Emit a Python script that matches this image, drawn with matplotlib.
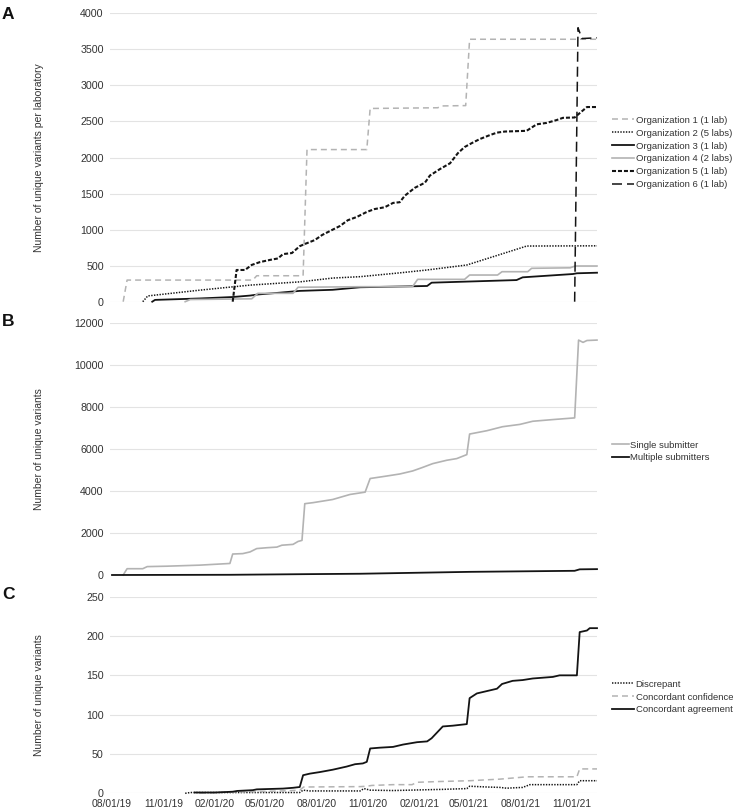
import matplotlib
matplotlib.use('Agg')
import matplotlib.pyplot as plt
import matplotlib.dates as mdates
import pandas as pd

plt.rcParams['font.family'] = ['Liberation Sans', 'DejaVu Sans']
plt.rcParams['lines.scale_dashes'] = False

GRAY = '#b3b3b3'
BLACK = '#141414'
TEXT = '#333333'

# ---------------- Panel A: unique variants per laboratory ----------------
org1_dates = ['2019-08-21', '2019-08-28', '2020-04-09', '2020-04-16', '2020-07-08', '2020-07-15',
              '2020-10-30', '2020-11-05', '2021-03-06', '2021-03-13', '2021-04-25', '2021-05-02',
              '2021-12-16']
org1_vals = [0, 300, 300, 360, 360, 2110, 2110, 2680, 2690, 2715, 2720, 3640, 3640]

org2_dates = ['2019-09-25', '2019-10-04', '2020-01-05', '2020-04-04', '2020-07-02', '2020-08-30',
              '2020-10-18', '2020-12-28', '2021-02-15', '2021-04-27', '2021-06-13', '2021-08-05',
              '2021-08-12', '2021-12-16']
org2_vals = [0, 80, 160, 230, 275, 328, 347, 400, 440, 509, 624, 754, 772, 775]

org3_dates = ['2019-10-12', '2019-10-17', '2020-01-05', '2020-03-04', '2020-04-04', '2020-04-18',
              '2020-05-27', '2020-07-02', '2020-08-30', '2020-10-18', '2021-02-15', '2021-02-23',
              '2021-07-25', '2021-08-05', '2021-11-03', '2021-11-10', '2021-12-16']
org3_vals = [0, 25, 45, 65, 85, 100, 125, 150, 165, 200, 218, 264, 300, 338, 384, 394, 402]

org4_dates = ['2019-12-10', '2019-12-19', '2020-04-07', '2020-04-18', '2020-06-20', '2020-06-29',
              '2020-10-18', '2021-01-20', '2021-01-29', '2021-04-23', '2021-05-02', '2021-06-21',
              '2021-06-29', '2021-08-14', '2021-08-21', '2021-10-29', '2021-11-07', '2021-12-16']
org4_vals = [0, 30, 40, 116, 116, 200, 208, 210, 310, 310, 370, 370, 416, 416, 463, 470, 495, 495]

org5_dates = ['2020-03-04', '2020-03-11', '2020-03-26', '2020-04-07', '2020-04-22', '2020-05-10',
              '2020-05-24', '2020-06-02', '2020-06-18', '2020-07-02', '2020-07-11', '2020-07-29',
              '2020-08-11', '2020-08-25', '2020-09-12', '2020-09-26', '2020-10-12', '2020-10-30',
              '2020-11-13', '2020-12-01', '2020-12-16', '2020-12-28', '2021-01-06', '2021-01-24',
              '2021-02-11', '2021-02-20', '2021-03-10', '2021-03-28', '2021-04-11', '2021-04-23',
              '2021-05-06', '2021-05-20', '2021-06-07', '2021-06-20', '2021-07-04', '2021-08-12',
              '2021-08-30', '2021-09-17', '2021-10-05', '2021-10-16', '2021-11-06', '2021-11-15',
              '2021-11-28', '2021-12-16']
org5_vals = [0, 440, 440, 510, 550, 580, 600, 660, 675, 770, 800, 855, 925, 980, 1050, 1130,
             1175, 1245, 1285, 1310, 1370, 1380, 1470, 1580, 1650, 1750, 1840, 1920, 2060, 2145,
             2200, 2255, 2310, 2345, 2360, 2370, 2460, 2480, 2520, 2550, 2555, 2615, 2700, 2700]

org6_dates = ['2021-11-06', '2021-11-12', '2021-11-19', '2021-12-16']
org6_vals = [0, 3800, 3650, 3660]

# ---------------- Panel B: single vs multiple submitters ----------------
single_dates = ['2019-08-21', '2019-08-28', '2019-09-25', '2019-10-03', '2019-11-07', '2020-01-05',
                '2020-02-28', '2020-03-04', '2020-03-22', '2020-04-04', '2020-04-16', '2020-05-04',
                '2020-05-22', '2020-05-31', '2020-06-20', '2020-06-29', '2020-07-06', '2020-07-11',
                '2020-07-26', '2020-08-30', '2020-09-30', '2020-10-27', '2020-11-05', '2020-12-05',
                '2020-12-28', '2021-01-20', '2021-02-06', '2021-02-25', '2021-03-22', '2021-04-09',
                '2021-04-27', '2021-05-02', '2021-06-02', '2021-06-30', '2021-07-31', '2021-08-23',
                '2021-09-28', '2021-11-06', '2021-11-13', '2021-11-21', '2021-11-28', '2021-12-16']
single_vals = [0, 300, 300, 400, 420, 470, 550, 1000, 1020, 1100, 1260, 1300, 1330, 1420, 1460,
               1600, 1650, 3400, 3450, 3600, 3840, 3950, 4600, 4720, 4816, 4960, 5120, 5310, 5470,
               5550, 5740, 6720, 6880, 7070, 7180, 7330, 7410, 7490, 11200, 11090, 11180, 11200]

multi_dates = ['2019-08-01', '2020-02-28', '2020-07-11', '2020-10-18', '2021-05-02', '2021-11-06',
               '2021-11-15', '2021-12-16']
multi_vals = [0, 10, 40, 60, 150, 200, 270, 280]

# ---------------- Panel C: concordance ----------------
disc_dates = ['2019-12-10', '2019-12-19', '2020-07-02', '2020-07-08', '2020-07-20', '2020-10-18',
              '2020-10-25', '2020-11-05', '2020-12-16', '2021-03-15', '2021-04-27', '2021-05-02',
              '2021-06-02', '2021-06-25', '2021-07-07', '2021-08-05', '2021-08-18', '2021-11-10',
              '2021-11-15', '2021-12-16']
disc_vals = [0, 1, 1, 4, 3, 3, 6, 4, 3.5, 5, 6, 9, 8, 7.5, 6.5, 7.5, 11, 11, 16, 16]

conf_dates = ['2020-01-05', '2020-02-01', '2020-04-09', '2020-06-02', '2020-07-02', '2020-07-09',
              '2020-10-18', '2020-10-30', '2020-11-08', '2020-12-16', '2021-01-19', '2021-01-28',
              '2021-03-10', '2021-05-02', '2021-06-25', '2021-08-13', '2021-11-10', '2021-11-15',
              '2021-12-16']
conf_vals = [0, 1, 2, 3, 4, 8, 8.5, 9, 10, 11, 11, 14, 15, 16, 18, 21, 21, 31, 31]

agree_dates = ['2019-12-27', '2020-02-01', '2020-03-04', '2020-03-12', '2020-04-09', '2020-04-16',
               '2020-06-02', '2020-06-20', '2020-07-02', '2020-07-08', '2020-07-20', '2020-08-07',
               '2020-08-30', '2020-09-24', '2020-10-09', '2020-10-23', '2020-10-30', '2020-11-05',
               '2020-11-22', '2020-12-16', '2021-01-03', '2021-01-28', '2021-02-15', '2021-02-23',
               '2021-03-15', '2021-04-02', '2021-04-27', '2021-05-02', '2021-05-15', '2021-06-02',
               '2021-06-20', '2021-06-29', '2021-07-18', '2021-08-05', '2021-08-23', '2021-09-10',
               '2021-09-28', '2021-10-10', '2021-11-10', '2021-11-15', '2021-11-28', '2021-12-03',
               '2021-12-16']
agree_vals = [1, 1, 2, 3, 4, 5, 6, 7, 8, 23, 25, 27, 30, 34, 37, 38, 40, 57, 58, 59, 62, 65, 66,
              70, 85, 86, 88, 121, 127, 130, 133, 139, 143, 144, 146, 147, 148, 150, 150, 205,
              207, 210, 210]

tick_dates = ['2019-08-01', '2019-11-01', '2020-02-01', '2020-05-01', '2020-08-01', '2020-11-01',
              '2021-02-01', '2021-05-01', '2021-08-01', '2021-11-01']

d = pd.to_datetime

fig = plt.figure(figsize=(7.33, 8.09), dpi=100)
W, H = 733, 809


def make_axes(top_px, bottom_px):
    left, right = 110, 597
    return fig.add_axes([left / W, 1 - bottom_px / H, (right - left) / W, (bottom_px - top_px) / H])


def style(ax, ymax, ystep, ylabel, show_x):
    ax.set_xlim(pd.Timestamp('2019-07-28 10:00'), pd.Timestamp('2021-12-16'))
    ax.set_ylim(0, ymax)
    ax.set_yticks(range(0, ymax + 1, ystep))
    for s in ax.spines.values():
        s.set_visible(False)
    ax.grid(axis='y', color='#e3e3e3', linewidth=0.8)
    ax.set_axisbelow(True)
    ax.tick_params(axis='y', length=0, pad=4.5, labelsize=7.7, labelcolor=TEXT)
    ax.tick_params(axis='x', length=0, pad=4, labelsize=7.4, labelcolor=TEXT)
    ax.set_xticks(d(tick_dates))
    if show_x:
        ax.xaxis.set_major_formatter(mdates.DateFormatter('%m/%d/%y'))
    else:
        ax.set_xticklabels([])
    ax.set_ylabel(ylabel, fontsize=7.5, color=TEXT)
    ax.yaxis.set_label_coords((44 - 110) / 487, 0.5)


# ---- A ----
axA = make_axes(13.3, 301.7)
axA.plot(d(org1_dates), org1_vals, color=GRAY, lw=1.1, dashes=(4.3, 2.9), label='Organization 1 (1 lab)', clip_on=False)
axA.plot(d(org2_dates), org2_vals, color=BLACK, lw=1.1, dashes=(1, 1), label='Organization 2 (5 labs)', clip_on=False)
axA.plot(d(org3_dates), org3_vals, color=BLACK, lw=1.3, label='Organization 3 (1 lab)', clip_on=False)
axA.plot(d(org4_dates), org4_vals, color=GRAY, lw=1.2, label='Organization 4 (2 labs)', clip_on=False)
axA.plot(d(org5_dates), org5_vals, color=BLACK, lw=1.5, dashes=(2.9, 1.4), label='Organization 5 (1 lab)', clip_on=False)
axA.plot(d(org6_dates), org6_vals, color=BLACK, lw=1.1, dashes=(7.2, 3.6), label='Organization 6 (1 lab)', clip_on=False)
style(axA, 4000, 500, 'Number of unique variants per laboratory', False)
axA.legend(loc='center left', bbox_to_anchor=(612 / W, 1 - 152.5 / H), bbox_transform=fig.transFigure,
           frameon=False, fontsize=6.8, handlelength=2.3, handletextpad=0.2, labelspacing=0.42,
           borderpad=0, borderaxespad=0, labelcolor=TEXT)

# ---- B ----
axB = make_axes(323.3, 575)
axB.plot(d(single_dates), single_vals, color=GRAY, lw=1.2, label='Single submitter', clip_on=False)
axB.plot(d(multi_dates), multi_vals, color=BLACK, lw=1.3, label='Multiple submitters', clip_on=False)
style(axB, 12000, 2000, 'Number of unique variants', False)
axB.legend(loc='center left', bbox_to_anchor=(612 / W, 1 - 451.5 / H), bbox_transform=fig.transFigure,
           frameon=False, fontsize=6.8, handlelength=1.75, handletextpad=0.2, labelspacing=0.42,
           borderpad=0, borderaxespad=0, labelcolor=TEXT)

# ---- C ----
axC = make_axes(596.7, 793.3)
axC.plot(d(disc_dates), disc_vals, color=BLACK, lw=1.1, dashes=(1, 1), label='Discrepant', clip_on=False)
axC.plot(d(conf_dates), conf_vals, color=GRAY, lw=1.1, dashes=(4.3, 2.9), label='Concordant confidence', clip_on=False)
axC.plot(d(agree_dates), agree_vals, color=BLACK, lw=1.3, label='Concordant agreement', clip_on=False)
style(axC, 250, 50, 'Number of unique variants', True)
axC.legend(loc='center left', bbox_to_anchor=(612 / W, 1 - 697 / H), bbox_transform=fig.transFigure,
           frameon=False, fontsize=6.8, handlelength=2.3, handletextpad=0.2, labelspacing=0.42,
           borderpad=0, borderaxespad=0, labelcolor=TEXT)

for letter, ytop in [('A', 7), ('B', 314), ('C', 587)]:
    fig.text(2 / W, 1 - ytop / H, letter, fontsize=12.5, fontweight='bold', va='top', ha='left', color='#111111')

fig.savefig('out.png', dpi=100)
